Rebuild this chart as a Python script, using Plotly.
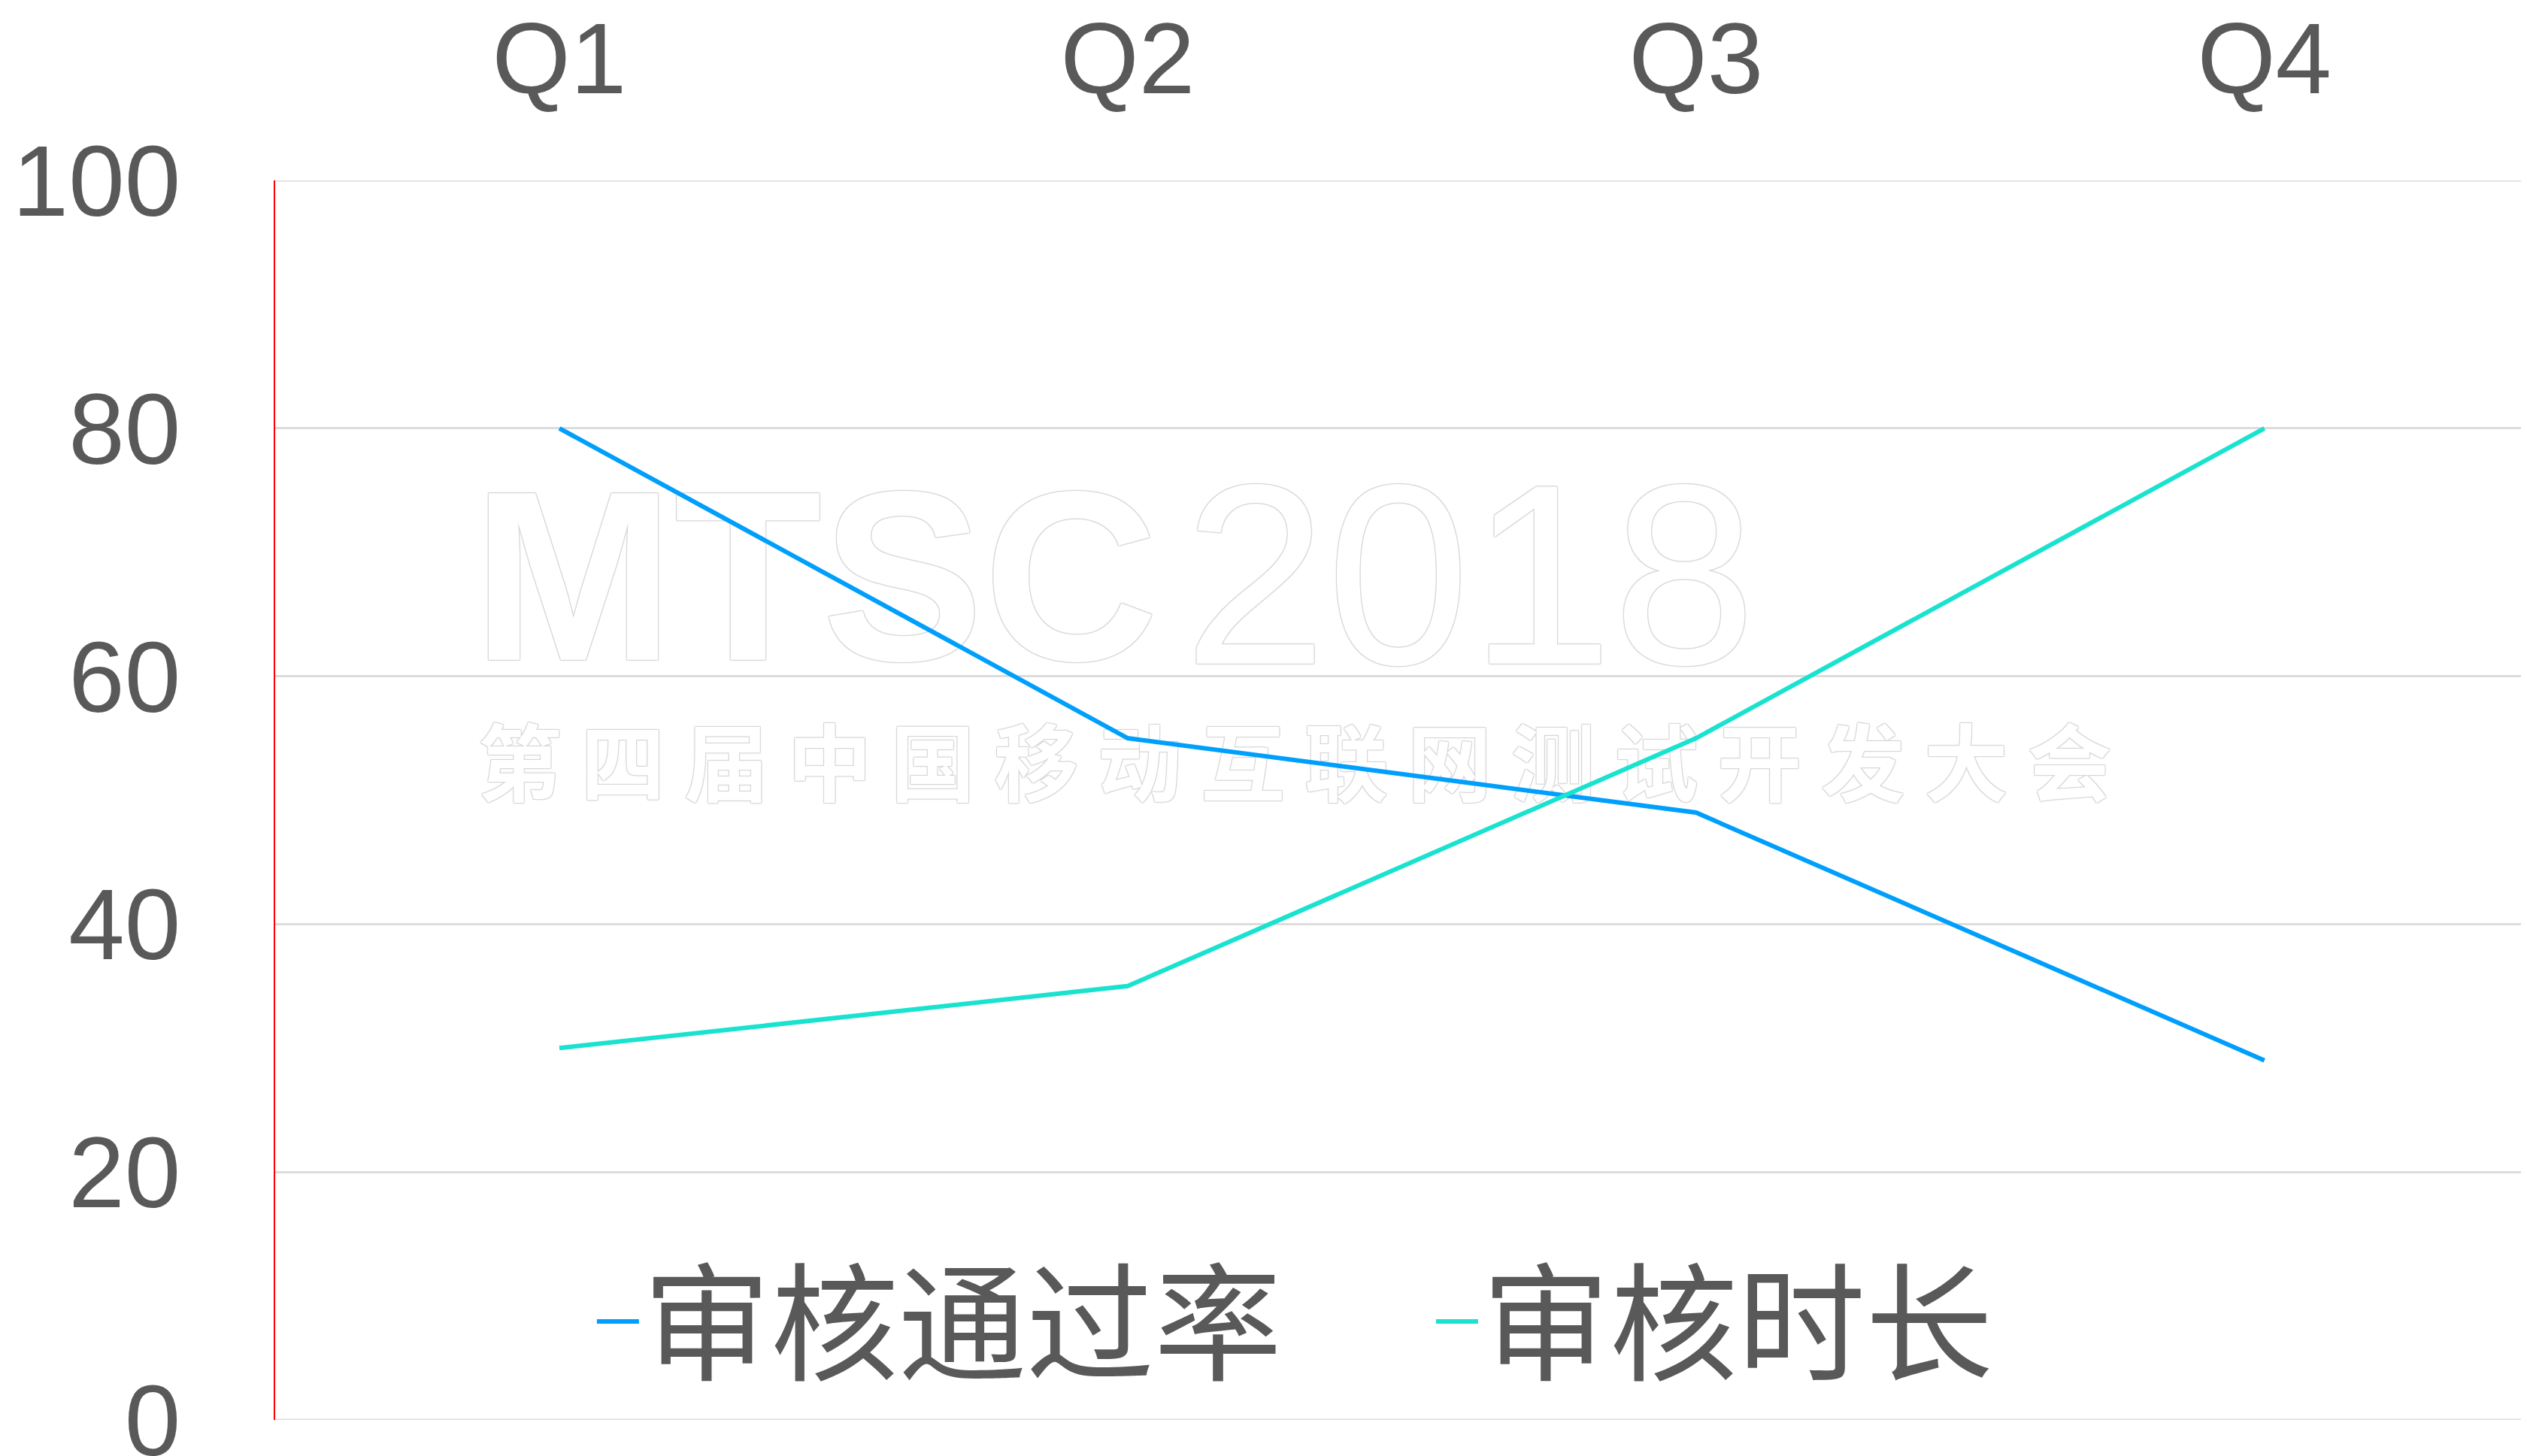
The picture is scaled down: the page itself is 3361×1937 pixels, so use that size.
import plotly.graph_objects as go

categories = ["Q1", "Q2", "Q3", "Q4"]
pass_rate = [80, 55, 49, 29]
review_time = [30, 35, 55, 80]
series_names = ["审核通过率", "审核时长"]
y_ticks = [0, 20, 40, 60, 80, 100]

BLUE = "#009ffb"
TEAL = "#19e2cf"
GREY = "#595959"
GRID = "#dcdcdc"

fig = go.Figure()

# faint watermark on a hidden 0..1 helper subplot (drawn beneath the data lines)
wm_shadow = "1px 1px 1px #d6d6d6, -1px -1px 1px #d6d6d6, 1px -1px 1px #d6d6d6, -1px 1px 1px #d6d6d6"
fig.add_trace(go.Scatter(
    x=[0.2399], y=[0.662], mode="text", text=["MTSC"],
    textfont=dict(family="Liberation Sans", size=322, color="white", weight="bold", shadow=wm_shadow),
    hoverinfo="skip", showlegend=False, xaxis="x", yaxis="y"))
fig.add_trace(go.Scatter(
    x=[0.5305], y=[0.662], mode="text", text=["2018"],
    textfont=dict(family="Liberation Sans", size=342, color="white", weight="normal", shadow=wm_shadow),
    hoverinfo="skip", showlegend=False, xaxis="x", yaxis="y"))
fig.add_trace(go.Scatter(
    x=[0.4527], y=[0.521], mode="text", text=[" ".join("第四届中国移动互联网测试开发大会")],
    textfont=dict(family="Noto Sans CJK SC", size=112, color="white", weight="bold", shadow=wm_shadow),
    hoverinfo="skip", showlegend=False, xaxis="x", yaxis="y"))

fig.add_trace(go.Scatter(x=categories, y=pass_rate, mode="lines", name=series_names[0],
                         line=dict(color=BLUE, width=6), xaxis="x2", yaxis="y2"))
fig.add_trace(go.Scatter(x=categories, y=review_time, mode="lines", name=series_names[1],
                         line=dict(color=TEAL, width=6), xaxis="x2", yaxis="y2"))

# boundary grid lines at 0 and 100
for v in (y_ticks[0], y_ticks[-1]):
    fig.add_shape(type="line", xref="paper", x0=0, x1=1, yref="y2", y0=v, y1=v,
                  line=dict(color=GRID, width=3), layer="below")

fig.update_layout(
    width=3353, height=1929,
    margin=dict(l=358, r=0, t=232, b=48, autoexpand=False),
    paper_bgcolor="white", plot_bgcolor="white",
    showlegend=True,
    legend=dict(orientation="h", x=0.1412, xanchor="left", y=0.0795, yanchor="middle",
                font=dict(family="Noto Sans CJK SC", size=170, color=GREY),
                bgcolor="rgba(0,0,0,0)", entrywidth=1045, entrywidthmode="pixels",
                itemwidth=56),
    xaxis=dict(range=[0, 1], visible=False, fixedrange=True),
    yaxis=dict(range=[0, 1], visible=False, fixedrange=True),
    xaxis2=dict(overlaying="x", anchor="y2", side="top", type="category", range=[-0.5, 3.462],
                showgrid=False, zeroline=False, showline=False, automargin=False,
                ticks="", tickfont=dict(family="Liberation Sans", size=134, color=GREY),
                ticklabelstandoff=88, ticklabeloverflow="allow"),
    yaxis2=dict(overlaying="y", anchor="x2", side="left", range=[0, 100], tickvals=y_ticks,
                showgrid=True, gridcolor=GRID, gridwidth=3, automargin=False,
                zeroline=False, showline=True, linecolor="red", linewidth=2, ticks="",
                tickfont=dict(family="Liberation Sans", size=134, color=GREY),
                ticklabelstandoff=97, ticklabeloverflow="allow"),
)

fig.write_html("out.html")
